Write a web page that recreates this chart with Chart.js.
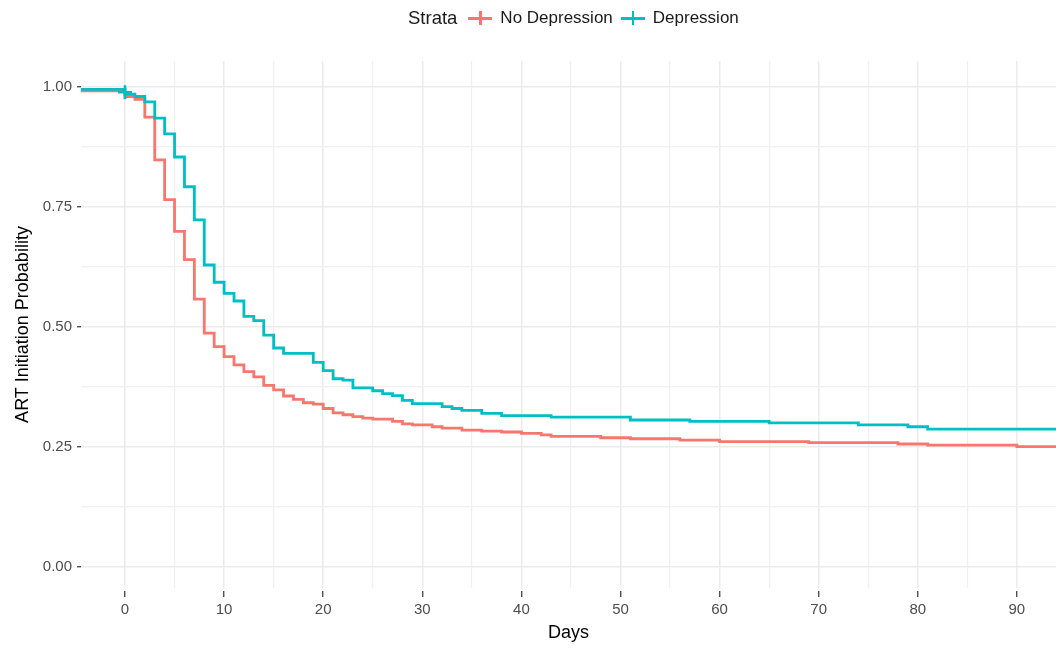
<!DOCTYPE html>
<html>
<head>
<meta charset="utf-8">
<script src="https://cdn.jsdelivr.net/npm/chart.js@4/dist/chart.umd.min.js"></script>
<style>
  body { margin: 0; background: #fff; }
  #wrap { position: relative; width: 1056px; height: 650px; }
  #legend {
    position: absolute; top: 7px; left: 408px;
    display: flex; align-items: center;
    font-family: "Liberation Sans", Arial, sans-serif; color: #1a1a1a;
  }
  #legend .title { font-size: 18.5px; margin-right: 11px; }
  #legend .item { font-size: 17px; margin-right: 8px; }
  .key { position: relative; width: 24px; height: 20px; margin-right: 8px; }
  .key .h { position: absolute; left: 0; top: 9px; width: 24px; height: 2.6px; }
  .key .v { position: absolute; left: 11px; top: 3px; width: 2.6px; height: 14px; }
</style>
</head>
<body>
<div id="wrap">
  <canvas id="myChart" width="1056" height="650"></canvas>
  <div id="legend"></div>
</div>
<script>
// Kaplan-Meier steps (day, survival)
var noDepDays = [-5, 0, 1, 2, 3, 4, 5, 6, 7, 8, 9, 10, 11, 12, 13, 14, 15, 16, 17, 18, 19, 20, 21, 22, 23, 24, 25, 27, 28, 29, 31, 32, 34, 36, 38, 40, 42, 43, 48, 51, 56, 60, 69, 78, 81, 90, 95];
var noDepSurv = [0.992, 0.980, 0.974, 0.937, 0.848, 0.765, 0.699, 0.640, 0.558, 0.487, 0.459, 0.438, 0.421, 0.407, 0.396, 0.378, 0.369, 0.356, 0.349, 0.342, 0.339, 0.330, 0.321, 0.317, 0.313, 0.310, 0.308, 0.303, 0.298, 0.296, 0.292, 0.289, 0.285, 0.283, 0.281, 0.278, 0.275, 0.272, 0.269, 0.267, 0.264, 0.261, 0.259, 0.256, 0.2535, 0.2505, 0.2505];

var depDays = [-5, 0, 1, 2, 3, 4, 5, 6, 7, 8, 9, 10, 11, 12, 13, 14, 15, 16, 19, 20, 21, 22, 23, 25, 26, 27, 28, 29, 32, 33, 34, 36, 38, 43, 51, 57, 65, 74, 79, 81, 95];
var depSurv = [0.995, 0.985, 0.980, 0.969, 0.935, 0.902, 0.854, 0.792, 0.723, 0.629, 0.593, 0.570, 0.554, 0.522, 0.513, 0.483, 0.456, 0.445, 0.426, 0.409, 0.392, 0.389, 0.373, 0.367, 0.361, 0.357, 0.347, 0.340, 0.334, 0.330, 0.326, 0.320, 0.315, 0.312, 0.306, 0.303, 0.300, 0.296, 0.292, 0.287, 0.287];

var depCensorDays = [0];
var depCensorSurv = [0.989];

var xTicks = [0, 5, 10, 15, 20, 25, 30, 35, 40, 45, 50, 55, 60, 65, 70, 75, 80, 85, 90];
var yTicks = [0, 0.125, 0.25, 0.375, 0.5, 0.625, 0.75, 0.875, 1];

var strataNames = ["No Depression", "Depression"];
var strataColors = ["#F8766D", "#00BFC4"];

const toPoints = (xs, ys) => xs.map((x, i) => ({ x: x, y: ys[i] }));

// html legend, ggplot style
var legend = document.getElementById("legend");
var html = '<span class="title">Strata</span>';
strataNames.forEach(function(name, i) {
  html += '<span class="key"><span class="h" style="background:' + strataColors[i] + '"></span>' +
          '<span class="v" style="background:' + strataColors[i] + '"></span></span>' +
          '<span class="item">' + name + '</span>';
});
legend.innerHTML = html;

const font = "'Liberation Sans', Arial, sans-serif";
const ctx = document.getElementById('myChart');

var myChart = new Chart(ctx, {
  type: 'line',
  data: {
    datasets: [{
      label: strataNames[1],
      data: toPoints(depDays, depSurv),
      borderColor: strataColors[1],
      borderWidth: 2.8,
      pointRadius: 0,
      stepped: true,
      order: 0
    }, {
      label: strataNames[0],
      data: toPoints(noDepDays, noDepSurv),
      borderColor: strataColors[0],
      borderWidth: 2.8,
      pointRadius: 0,
      stepped: true,
      order: 1
    }, {
      label: 'censor',
      data: toPoints(depCensorDays, depCensorSurv),
      showLine: false,
      pointStyle: 'cross',
      pointRadius: 7,
      borderColor: strataColors[1],
      pointBorderWidth: 2.6,
      order: -1
    }]
  },
  options: {
    responsive: false,
    animation: false,
    devicePixelRatio: 1,
    layout: { autoPadding: false, padding: { top: 61, right: 0, bottom: 0, left: 0 } },
    plugins: { legend: { display: false }, tooltip: { enabled: false } },
    scales: {
      x: {
        type: 'linear',
        min: -4.44,
        max: 93.95,
        border: { display: false },
        afterBuildTicks: (axis) => { axis.ticks = xTicks.map(v => ({ value: v })); },
        afterFit: (axis) => { axis.height = 62; axis.paddingLeft = 0; axis.paddingRight = 0; },
        grid: {
          color: (c) => c.tick.value % 10 === 0 ? '#ebebeb' : '#f0f0f0',
          lineWidth: (c) => c.tick.value % 10 === 0 ? 1.5 : 1.2,
          tickColor: (c) => c.tick.value % 10 === 0 ? '#333333' : 'rgba(0,0,0,0)',
          tickLength: 9,
          tickWidth: 1.2,
          tickBorderDash: [0, 3, 6, 50]
        },
        ticks: {
          autoSkip: false,
          maxRotation: 0,
          padding: 4,
          color: '#4d4d4d',
          font: { family: font, size: 15 },
          callback: (v) => v % 10 === 0 ? String(v) : ''
        },
        title: {
          display: true,
          text: 'Days',
          color: '#000',
          font: { family: font, size: 18 },
          padding: { top: 0, bottom: 6 }
        }
      },
      y: {
        type: 'linear',
        min: -0.044,
        max: 1.054,
        border: { display: false },
        afterBuildTicks: (axis) => { axis.ticks = yTicks.map(v => ({ value: v })); },
        afterFit: (axis) => { axis.width = 81; },
        grid: {
          color: (c) => c.tick.value % 0.25 === 0 ? '#ebebeb' : '#f0f0f0',
          lineWidth: (c) => c.tick.value % 0.25 === 0 ? 1.5 : 1.2,
          tickColor: (c) => c.tick.value % 0.25 === 0 ? '#333333' : 'rgba(0,0,0,0)',
          tickLength: 4,
          tickWidth: 1.2
        },
        ticks: {
          autoSkip: false,
          padding: 5,
          color: '#4d4d4d',
          font: { family: font, size: 15 },
          callback: (v) => v % 0.25 === 0 ? v.toFixed(2) : ''
        },
        title: {
          display: true,
          text: 'ART Initiation Probability',
          color: '#000',
          font: { family: font, size: 18 },
          padding: { top: 12, bottom: 0 }
        }
      }
    }
  }
});
</script>
</body>
</html>
